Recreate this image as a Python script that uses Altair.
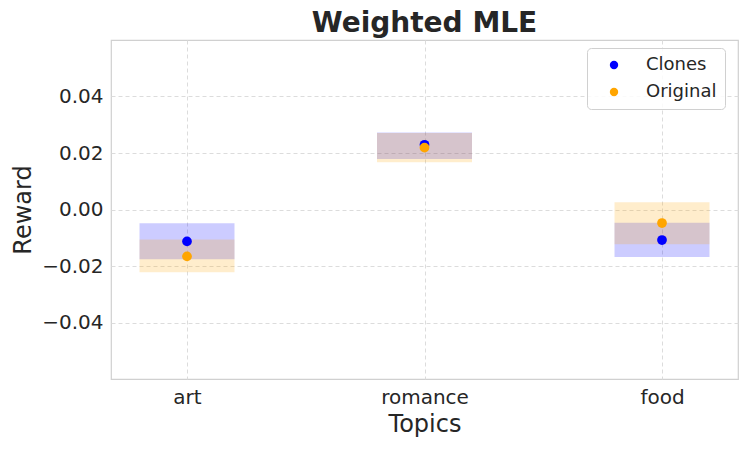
import altair as alt
import pandas as pd

topics = ["art", "romance", "food"]
positions = [0, 1, 2]
series = ["Clones", "Original"]

clones_mean = [-0.0113, 0.0229, -0.0108]
clones_low = [-0.0176, 0.0179, -0.0168]
clones_high = [-0.0049, 0.0273, -0.0047]

orig_mean = [-0.0166, 0.0219, -0.0048]
orig_low = [-0.0222, 0.0167, -0.0123]
orig_high = [-0.0106, 0.0271, 0.0026]

colors = ["#0000ff", "#ffa500"]
yticks = [-0.04, -0.02, 0.0, 0.02, 0.04]

rows = []
for i, t in enumerate(topics):
    rows.append(dict(topic=t, pos=positions[i], series="Clones", order=0,
                     mean=clones_mean[i], low=clones_low[i], high=clones_high[i]))
    rows.append(dict(topic=t, pos=positions[i], series="Original", order=1,
                     mean=orig_mean[i], low=orig_low[i], high=orig_high[i]))
df = pd.DataFrame(rows)
df["x0"] = df["pos"] - 0.2
df["x1"] = df["pos"] + 0.2

label_expr = ("datum.value == 0 ? 'art' : datum.value == 1 ? 'romance' : "
              "datum.value == 2 ? 'food' : ''")

xscale = alt.Scale(domain=[-0.32, 2.32], nice=False, zero=False)
yscale = alt.Scale(domain=[-0.06, 0.06], nice=False)
cscale = alt.Scale(domain=series, range=colors)

xaxis = alt.Axis(values=positions, labelExpr=label_expr, title="Topics",
                 labelPadding=8, titlePadding=5)
yaxis = alt.Axis(values=yticks, format=".2f",
                 labelExpr="replace(datum.label, '-', '\u2212')",
                 title="Reward", labelPadding=8, titlePadding=6)

base = alt.Chart(df)

rects = base.mark_rect(opacity=0.2).encode(
    x=alt.X("x0:Q", scale=xscale, axis=xaxis),
    x2="x1:Q",
    y=alt.Y("low:Q", scale=yscale, axis=yaxis),
    y2="high:Q",
    color=alt.Color("series:N", scale=cscale, legend=None),
)

points = base.mark_circle(size=95, opacity=1).encode(
    x=alt.X("pos:Q", scale=xscale, axis=xaxis),
    y=alt.Y("mean:Q", scale=yscale, axis=yaxis),
    color=alt.Color("series:N", scale=cscale,
                    legend=alt.Legend(title=None, orient="none", legendX=476, legendY=8,
                                      labelFontSize=18, labelColor="#262626",
                                      symbolSize=70, symbolType="circle",
                                      symbolOpacity=1,
                                      fillColor="rgba(255,255,255,0.85)",
                                      strokeColor="#d0d0d0",
                                      cornerRadius=4, padding=8, rowPadding=9,
                                      labelOffset=23, symbolOffset=10)),
    order=alt.Order("order:Q"),
)

chart = alt.layer(rects, points).resolve_legend(color="independent").properties(
    width=627, height=339,
    padding={"left": 103, "top": 32, "right": 1, "bottom": 60},
    autosize=alt.AutoSizeParams(type="none"),
    title=alt.TitleParams("Weighted MLE", fontSize=28, fontWeight="bold",
                          color="#262626", anchor="middle", offset=2),
).configure(
    font="DejaVu Sans"
).configure_view(
    stroke="#d0d0d0", strokeWidth=1.2
).configure_axis(
    grid=True, gridDash=[4, 3], gridColor="#dcdcdc", ticks=False, domain=False,
    labelFontSize=20, titleFontSize=24, labelColor="#262626",
    titleColor="#262626", titleFontWeight="normal",
)

chart.save("out.html", embed_options={"renderer": "svg", "actions": False})
